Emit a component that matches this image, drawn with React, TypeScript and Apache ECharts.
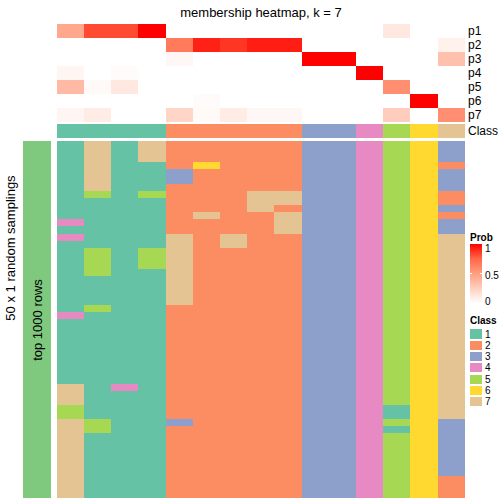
import React, { useEffect, useRef } from "react";
import * as echarts from "echarts";

const FONT = "'Liberation Sans', Arial, Helvetica, sans-serif";

// membership probabilities (15 samples, columns) for p1..p7
const memberRows = ["p1", "p2", "p3", "p4", "p5", "p6", "p7"];
const p1 = [0.45, 0.82, 0.82, 1, 0, 0, 0, 0, 0, 0, 0, 0, 0.12, 0, 0];
const p2 = [0, 0, 0, 0, 0.66, 0.92, 0.87, 0.93, 0.93, 0, 0, 0, 0, 0, 0.07];
const p3 = [0, 0, 0, 0, 0.04, 0, 0, 0, 0, 1, 1, 0, 0, 0, 0.32];
const p4 = [0.05, 0, 0.02, 0, 0, 0, 0, 0, 0, 0, 0, 1, 0, 0, 0];
const p5 = [0.36, 0.03, 0.12, 0, 0, 0, 0, 0, 0, 0, 0, 0, 0.57, 0, 0];
const p6 = [0, 0, 0, 0, 0, 0.02, 0, 0, 0, 0, 0, 0, 0, 1, 0];
const p7 = [0.05, 0.1, 0, 0, 0.22, 0.03, 0.1, 0.04, 0.04, 0, 0, 0, 0.26, 0, 0.57];
const memberValues = [p1, p2, p3, p4, p5, p6, p7];

// class of each sample (annotation row)
const sampleClass = [1, 1, 1, 1, 2, 2, 2, 2, 2, 3, 3, 4, 5, 6, 7];

// class labels in 50 random samplings, one string per sample column (rows top to bottom)
const samplingCols = [
  "1111111111" + "1414111111" + "1111411111" + "1111777557" + "7777777777",
  "7777777511" + "1111155551" + "1115111111" + "1111111115" + "5111111111",
  "1111111111" + "1111111111" + "1111111111" + "1111411111" + "1111111111",
  "7771111511" + "1111155511" + "1111111111" + "1111111111" + "1111111111",
  "2222332222" + "2227777777" + "7772222222" + "2222222223" + "2222222222",
  "2226222222" + "7222222222" + "2222222222" + "2222222222" + "2222222222",
  "2222222222" + "2227722222" + "2222222222" + "2222222222" + "2222222222",
  "2222222777" + "2222222222" + "2222222222" + "2222222222" + "2222222222",
  "2222222772" + "7772222222" + "2222222222" + "2222222222" + "2222222222",
  "3333333333" + "3333333333" + "3333333333" + "3333333333" + "3333333333",
  "3333333333" + "3333333333" + "3333333333" + "3333333333" + "3333333333",
  "4444444444" + "4444444444" + "4444444444" + "4444444444" + "4444444444",
  "5555555555" + "5555555555" + "5555555555" + "5555555115" + "1555555555",
  "6666666666" + "6666666666" + "6666666666" + "6666666666" + "6666666666",
  "3332333223" + "2337777777" + "7777777777" + "7777777773" + "3333333222",
];

const classNames = ["1", "2", "3", "4", "5", "6", "7"];
const classColors = ["#66C2A5", "#FC8D62", "#8DA0CB", "#E78AC3", "#A6D854", "#FFD92F", "#E5C494"];
const probTicks = ["1", "0.5", "0"];
const probColors = ["#FFFFFF", "#FFCFBF", "#FF9E81", "#FF6846", "#FF0000"];
const rowGroupColor = "#7FC97F";

const NROW = samplingCols[0].length;

export default function App() {
  const ref = useRef<HTMLDivElement>(null);
  useEffect(() => {
    if (!ref.current) return;
    const chart = echarts.init(ref.current, null, { renderer: "svg" });
    const colIdx = sampleClass.map((_, i) => String(i));
    const rowIdx = Array.from({ length: NROW }, (_, i) => String(i));

    const memberData: number[][] = [];
    memberValues.forEach((row, r) => row.forEach((v, c) => memberData.push([c, r, v])));
    const classData = sampleClass.map((v, c) => [c, 0, v]);
    const mainData: number[][] = [];
    samplingCols.forEach((s, c) => {
      for (let r = 0; r < s.length; r++) mainData.push([c, r, Number(s[r])]);
    });

    const hiddenX = (gi: number) => ({
      type: "category" as const,
      gridIndex: gi,
      data: gi === 3 ? ["0"] : colIdx,
      show: false,
    });

    const classPieces = classNames.map((n, i) => ({ value: i + 1, color: classColors[i] }));

    const gradTop = 244;
    const gradH = 59;
    const graphic: any[] = [
      {
        type: "text",
        x: 261,
        y: 12,
        style: { text: "membership heatmap, k = 7", font: `13px ${FONT}`, fill: "#000", textAlign: "center", textVerticalAlign: "middle" },
      },
      {
        type: "text",
        x: 10,
        y: 248,
        rotation: Math.PI / 2,
        style: { text: "50 x 1 random samplings", font: `13px ${FONT}`, fill: "#000", textAlign: "center", textVerticalAlign: "middle" },
      },
      {
        type: "text",
        x: 37,
        y: 320,
        rotation: Math.PI / 2,
        z: 10,
        style: { text: "top 1000 rows", font: `13px ${FONT}`, fill: "#000", textAlign: "center", textVerticalAlign: "middle" },
      },
      {
        type: "text",
        x: 470,
        y: 237,
        style: { text: "Prob", font: `bold 10px ${FONT}`, fill: "#000", textAlign: "left", textVerticalAlign: "middle" },
      },
      {
        type: "rect",
        shape: { x: 470, y: gradTop, width: 12, height: gradH },
        style: {
          fill: new echarts.graphic.LinearGradient(0, 0, 0, 1, probColors
            .slice()
            .reverse()
            .map((c, i) => ({ offset: i / (probColors.length - 1), color: c }))),
        },
      },
      {
        type: "line",
        shape: { x1: 470, y1: gradTop + gradH / 2, x2: 472, y2: gradTop + gradH / 2 },
        style: { stroke: "#FFFFFF", lineWidth: 1 },
      },
      {
        type: "line",
        shape: { x1: 480, y1: gradTop + gradH / 2, x2: 482, y2: gradTop + gradH / 2 },
        style: { stroke: "#FFFFFF", lineWidth: 1 },
      },
      ...probTicks.map((t, i) => ({
        type: "text",
        x: 485,
        y: [248, 275, 301][i],
        style: { text: t, font: `10px ${FONT}`, fill: "#000", textAlign: "left", textVerticalAlign: "middle" },
      })),
      {
        type: "text",
        x: 470,
        y: 320,
        style: { text: "Class", font: `bold 10px ${FONT}`, fill: "#000", textAlign: "left", textVerticalAlign: "middle" },
      },
      ...classNames.flatMap((n, i) => [
        {
          type: "rect",
          shape: { x: 470, y: 329.3 + i * 11.33, width: 12, height: 9.2 },
          style: { fill: classColors[i] },
        },
        {
          type: "text",
          x: 485,
          y: 334 + i * 11.33,
          style: { text: n, font: `10px ${FONT}`, fill: "#000", textAlign: "left", textVerticalAlign: "middle" },
        },
      ]),
    ];

    const option: any = {
      animation: false,
      backgroundColor: "#FFFFFF",
      textStyle: { fontFamily: FONT },
      grid: [
        { left: 57, top: 24, width: 408, height: 98 },
        { left: 57, top: 124, width: 408, height: 13.6 },
        { left: 57, top: 141, width: 408, height: 357 },
        { left: 23, top: 141, width: 28, height: 357 },
      ],
      xAxis: [hiddenX(0), hiddenX(1), hiddenX(2), hiddenX(3)],
      yAxis: [
        {
          type: "category",
          gridIndex: 0,
          data: memberRows,
          inverse: true,
          position: "right",
          axisLine: { show: false },
          axisTick: { show: false },
          splitLine: { show: false },
          axisLabel: { interval: 0, fontSize: 12, color: "#000", margin: 3, fontFamily: FONT },
        },
        {
          type: "category",
          gridIndex: 1,
          data: ["Class"],
          position: "right",
          axisLine: { show: false },
          axisTick: { show: false },
          splitLine: { show: false },
          axisLabel: { interval: 0, fontSize: 12, color: "#000", margin: 3, fontFamily: FONT },
        },
        { type: "category", gridIndex: 2, data: rowIdx, inverse: true, show: false },
        { type: "category", gridIndex: 3, data: ["0"], show: false },
      ],
      visualMap: [
        {
          type: "continuous",
          seriesIndex: 0,
          min: 0,
          max: 1,
          show: false,
          inRange: { color: probColors },
        },
        {
          type: "piecewise",
          seriesIndex: [1, 2],
          show: false,
          pieces: classPieces,
        },
        {
          type: "piecewise",
          seriesIndex: 3,
          show: false,
          pieces: [{ value: 1, color: rowGroupColor }],
        },
      ],
      series: [
        { type: "heatmap", xAxisIndex: 0, yAxisIndex: 0, data: memberData, emphasis: { disabled: true }, progressive: 0 },
        { type: "heatmap", xAxisIndex: 1, yAxisIndex: 1, data: classData, emphasis: { disabled: true }, progressive: 0 },
        { type: "heatmap", xAxisIndex: 2, yAxisIndex: 2, data: mainData, emphasis: { disabled: true }, progressive: 0 },
        { type: "heatmap", xAxisIndex: 3, yAxisIndex: 3, data: [[0, 0, 1]], emphasis: { disabled: true }, progressive: 0 },
      ],
      graphic,
    };
    chart.setOption(option);
    return () => chart.dispose();
  }, []);
  return (
    <>
      <style>{`.hm-chart svg path { shape-rendering: crispEdges; }`}</style>
      <div
        ref={ref}
        className="hm-chart"
        style={{ position: "fixed", left: 0, top: 0, width: 504, height: 504, background: "#fff" }}
      />
    </>
  );
}
